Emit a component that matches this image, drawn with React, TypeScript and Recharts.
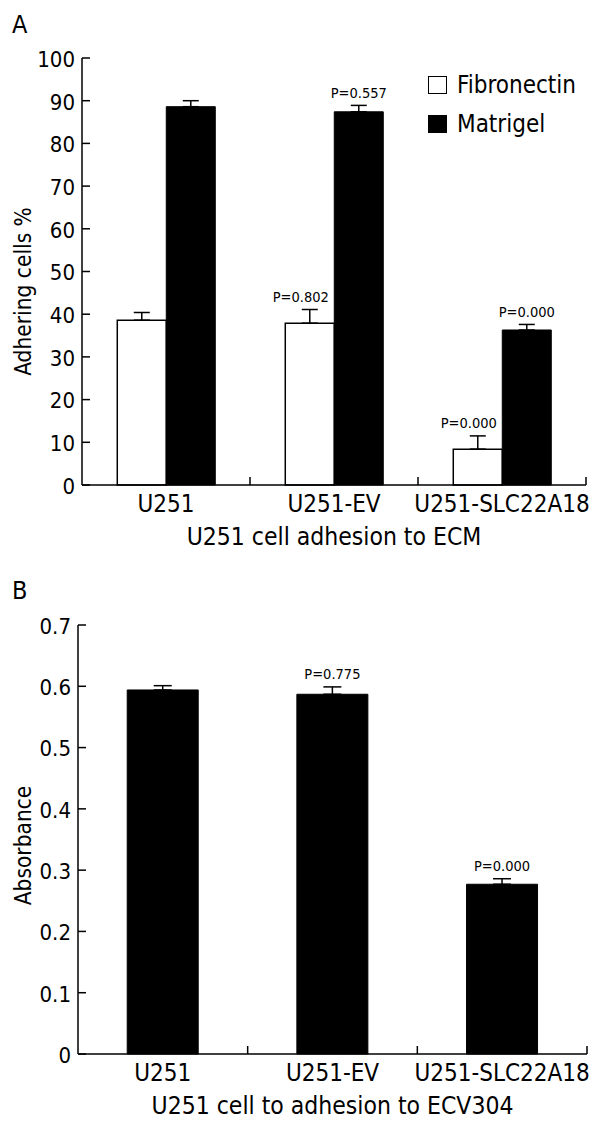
import { BarChart, Bar, XAxis, YAxis, ErrorBar, LabelList, Legend, Label } from 'recharts';

const FONT = "'DejaVu Sans Condensed', 'DejaVu Sans', sans-serif";

const cellLines = ['U251', 'U251-EV', 'U251-SLC22A18'];

// panel A: adhesion to ECM (%)
const fibronectin = [38.6, 37.9, 8.4];
const fibronectinErr = [1.8, 3.2, 3.1];
const fibronectinP = ['', 'P=0.802', 'P=0.000'];
const matrigel = [88.6, 87.4, 36.3];
const matrigelErr = [1.4, 1.5, 1.3];
const matrigelP = ['', 'P=0.557', 'P=0.000'];
const ecmTicks = [0, 10, 20, 30, 40, 50, 60, 70, 80, 90, 100];

// panel B: adhesion to ECV304
const absorbance = [0.594, 0.587, 0.277];
const absorbanceErr = [0.007, 0.012, 0.009];
const absorbanceP = ['', 'P=0.775', 'P=0.000'];
const absorbanceTicks = [0, 0.1, 0.2, 0.3, 0.4, 0.5, 0.6, 0.7];

const ecmData = cellLines.map((name, i) => ({
  name,
  fibronectin: fibronectin[i],
  fibronectinErr: [0, fibronectinErr[i]],
  fibronectinP: fibronectinP[i],
  matrigel: matrigel[i],
  matrigelErr: [0, matrigelErr[i]],
  matrigelP: matrigelP[i],
}));

const ecvData = cellLines.map((name, i) => ({
  name,
  absorbance: absorbance[i],
  absorbanceErr: [0, absorbanceErr[i]],
  absorbanceP: absorbanceP[i],
}));

const YTick = ({ x, y, payload, fmt }: any) => (
  <g>
    <line x1={x} x2={x + 8} y1={y} y2={y} stroke="#000" strokeWidth={1.5} />
    <text x={x - 7} y={y} dy="0.4em" textAnchor="end" fontSize={22} fontFamily={FONT} fill="#000">
      {fmt(payload.value)}
    </text>
  </g>
);

// category label in the middle, small tick at the right edge of each band
const XTick = ({ x, y, payload, width, visibleTicksCount }: any) => {
  const band = width / visibleTicksCount;
  return (
    <g>
      <line x1={x + band / 2} x2={x + band / 2} y1={y} y2={y - 8} stroke="#000" strokeWidth={1.5} />
      <text x={x} y={y + 27} textAnchor="middle" fontSize={24} fontFamily={FONT} fill="#000">
        {payload.value}
      </text>
    </g>
  );
};

const pLabel = (rows: any[], valueKey: string, errKey: string, dx: number) => (props: any) => {
  const { viewBox, value, index } = props;
  if (!value || !viewBox) return null;
  const row = rows[index];
  const errPx = (row[errKey][1] * viewBox.height) / row[valueKey];
  return (
    <text
      x={viewBox.x + viewBox.width / 2 + dx}
      y={viewBox.y - errPx - 7.5}
      textAnchor="middle"
      fontSize={14.5}
      fontFamily={FONT}
      fill="#000"
    >
      {value}
    </text>
  );
};

const yTitle = (text: string, shift: number) => (props: any) => {
  const { viewBox } = props;
  const cy = viewBox.y + viewBox.height / 2 + shift;
  return (
    <text
      x={31}
      y={cy}
      transform={`rotate(-90, 31, ${cy})`}
      textAnchor="middle"
      fontSize={22.5}
      fontFamily={FONT}
      fill="#000"
    >
      {text}
    </text>
  );
};

const xTitle = (text: string) => (props: any) => {
  const { viewBox } = props;
  return (
    <text
      x={viewBox.x + viewBox.width / 2}
      y={viewBox.y + 60}
      textAnchor="middle"
      fontSize={24.5}
      fontFamily={FONT}
      fill="#000"
    >
      {text}
    </text>
  );
};

const renderLegend = (props: any) => (
  <div style={{ fontFamily: FONT }}>
    {props.payload.map((entry: any) => (
      <div key={entry.value} style={{ display: 'flex', alignItems: 'center', height: 39 }}>
        <span
          style={{
            width: 19,
            height: 18,
            boxSizing: 'border-box',
            border: '1.5px solid #000',
            background: entry.color,
            marginRight: 10,
          }}
        />
        <span style={{ fontSize: 24, color: '#000' }}>{entry.value}</span>
      </div>
    ))}
  </div>
);

const panelLetter = (text: string, top: number) => (
  <div
    style={{
      position: 'absolute',
      left: 12,
      top,
      fontSize: 25,
      lineHeight: '25px',
      fontFamily: FONT,
      color: '#000',
    }}
  >
    {text}
  </div>
);

const axisLine = { stroke: '#000', strokeWidth: 1.5 };

const fmtInt = (v: number) => String(v);
const fmtDec = (v: number) => (v === 0 ? '0' : v.toFixed(1));

export default function App() {
  return (
    <div style={{ position: 'absolute', left: 0, top: 0, width: 600, height: 1132, background: '#fff' }}>
      {panelLetter('A', 12)}
      <BarChart
        width={600}
        height={560}
        data={ecmData}
        margin={{ top: 58, right: 14, left: 0, bottom: 0 }}
        barCategoryGap="21%"
        barGap={0}
      >
        <XAxis
          dataKey="name"
          height={75}
          tickLine={false}
          tickSize={0}
          tickMargin={0}
          axisLine={axisLine}
          tick={(p: any) => <XTick {...p} />}
        >
          <Label content={xTitle('U251 cell adhesion to ECM')} />
        </XAxis>
        <YAxis
          type="number"
          width={82}
          domain={[0, 100]}
          ticks={ecmTicks}
          interval={0}
          tickLine={false}
          tickSize={0}
          tickMargin={0}
          axisLine={axisLine}
          tick={(p: any) => <YTick {...p} fmt={fmtInt} />}
        >
          <Label content={yTitle('Adhering cells %', 20)} />
        </YAxis>
        <Legend
          layout="vertical"
          align="center"
          verticalAlign="middle"
          content={renderLegend}
          wrapperStyle={{ top: 65, left: 428, width: 170 }}
        />
        <Bar
          dataKey="fibronectin"
          name="Fibronectin"
          fill="#fff"
          stroke="#000"
          strokeWidth={1.5}
          isAnimationActive={false}
        >
          <ErrorBar dataKey="fibronectinErr" width={8} stroke="#000" strokeWidth={1.5} />
          <LabelList dataKey="fibronectinP" content={pLabel(ecmData, 'fibronectin', 'fibronectinErr', -9)} />
        </Bar>
        <Bar dataKey="matrigel" name="Matrigel" fill="#000" stroke="#000" strokeWidth={1} isAnimationActive={false}>
          <ErrorBar dataKey="matrigelErr" width={8} stroke="#000" strokeWidth={1.5} />
          <LabelList dataKey="matrigelP" content={pLabel(ecmData, 'matrigel', 'matrigelErr', 0)} />
        </Bar>
      </BarChart>

      {panelLetter('B', 578)}
      <BarChart
        width={600}
        height={572}
        data={ecvData}
        margin={{ top: 65, right: 13, left: 0, bottom: 0 }}
        barCategoryGap="29%"
      >
        <XAxis
          dataKey="name"
          height={78}
          tickLine={false}
          tickSize={0}
          tickMargin={0}
          axisLine={axisLine}
          tick={(p: any) => <XTick {...p} />}
        >
          <Label content={xTitle('U251 cell to adhesion to ECV304')} />
        </XAxis>
        <YAxis
          type="number"
          width={78}
          domain={[0, 0.7]}
          ticks={absorbanceTicks}
          interval={0}
          tickLine={false}
          tickSize={0}
          tickMargin={0}
          axisLine={axisLine}
          tick={(p: any) => <YTick {...p} fmt={fmtDec} />}
        >
          <Label content={yTitle('Absorbance', 6)} />
        </YAxis>
        <Bar dataKey="absorbance" fill="#000" stroke="#000" strokeWidth={1} isAnimationActive={false}>
          <ErrorBar dataKey="absorbanceErr" width={9} stroke="#000" strokeWidth={1.5} />
          <LabelList dataKey="absorbanceP" content={pLabel(ecvData, 'absorbance', 'absorbanceErr', 0)} />
        </Bar>
      </BarChart>
    </div>
  );
}
